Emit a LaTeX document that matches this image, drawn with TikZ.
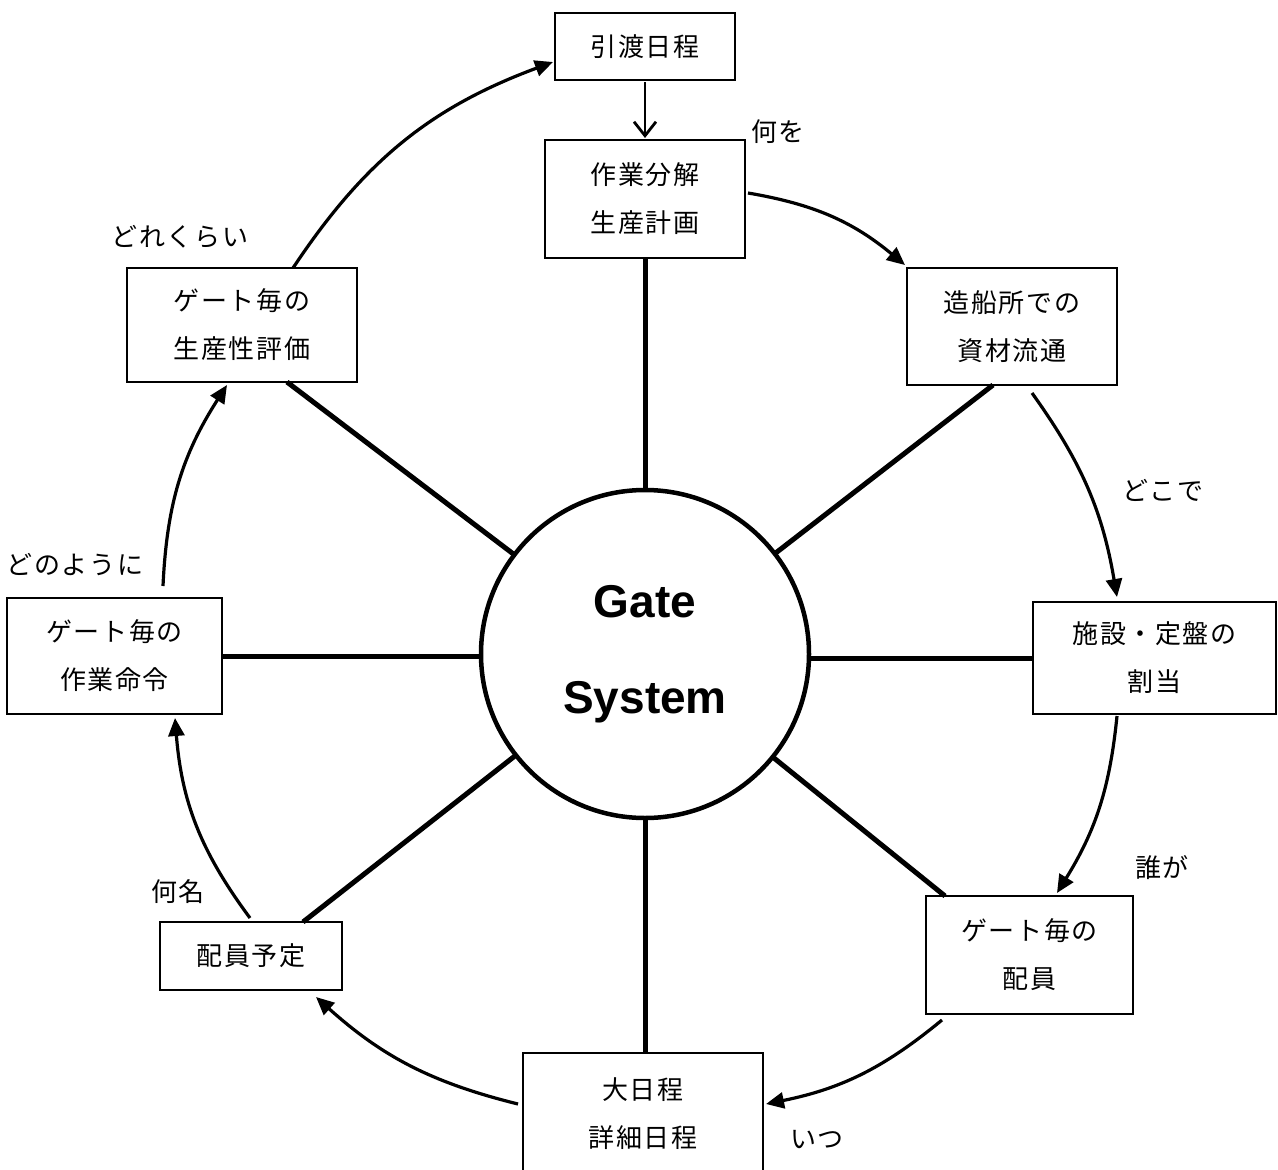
\documentclass[tikz,border=0pt]{standalone}
\usepackage{fontspec}
\setmainfont{Liberation Sans}
\newfontfamily\jp{Noto Sans CJK JP}[LetterSpace=6]
\usetikzlibrary{arrows.meta}
\begin{document}
\begin{tikzpicture}[x=1pt,y=-1pt,
  box/.style={draw, line width=1.5pt, inner sep=0pt, outer sep=0pt, align=center,
    font=\jp\fontsize{26}{48}\selectfont},
  spoke/.style={line width=5pt},
  flow/.style={line width=3.2pt, -{Triangle[length=18pt,width=16pt]}},
  lbl/.style={inner sep=0pt, font=\jp\fontsize{26}{30}\selectfont}]
\useasboundingbox (0,0) rectangle (1278,1170);

\node[draw, circle, line width=4.5pt, minimum size=328pt, inner sep=0pt, outer sep=0pt,
  align=center, font=\bfseries\fontsize{46}{96}\selectfont] (gs) at (645,654) {Gate\\System};

\node[box, minimum width=180pt, minimum height=67pt] (hand) at (645,46.5) {引渡日程};
\node[box, minimum width=200pt, minimum height=118pt] (plan) at (645,199) {作業分解\\生産計画};
\node[box, minimum width=210pt, minimum height=117pt] (mat) at (1012,326.5) {造船所での\\資材流通};
\node[box, minimum width=243pt, minimum height=112pt] (fac) at (1154.5,658) {施設・定盤の\\割当};
\node[box, minimum width=207pt, minimum height=118pt] (crew) at (1029.5,955) {ゲート毎の\\配員};
\node[box, minimum width=240pt, minimum height=122pt] (sched) at (643,1114) {大日程\\詳細日程};
\node[box, minimum width=182pt, minimum height=68pt] (staff) at (251,956) {配員予定};
\node[box, minimum width=215pt, minimum height=116pt] (order) at (114.5,656) {ゲート毎の\\作業命令};
\node[box, minimum width=230pt, minimum height=114pt] (eval) at (242,325) {ゲート毎の\\生産性評価};

% spokes
\draw[spoke] (gs) -- (gs |- plan.south);
\draw[spoke] (gs) -- ([xshift=-19pt]mat.south);
\draw[spoke] (fac.west) -- (gs.east |- fac.west);
\draw[spoke] (gs) -- ([xshift=-84.5pt]crew.north);
\draw[spoke] (gs) -- (gs |- sched.north);
\draw[spoke] (gs) -- ([xshift=52pt]staff.north);
\draw[spoke] (order.east) -- (gs.west |- order.east);
\draw[spoke] (gs) -- ([xshift=45pt]eval.south);

% flow arrows
\draw[line width=2.8pt, -{Straight Barb[length=14pt,width=22pt]}] ([yshift=-2pt]hand.south) -- ([yshift=2pt]plan.north);
\draw[flow] ([xshift=3pt,yshift=6pt]plan.east) to[bend left=15] ([xshift=-2pt,yshift=3pt]mat.north west);
\draw[flow] ([xshift=20pt,yshift=-8pt]mat.south) to[bend left=13] ([xshift=-37.5pt,yshift=5pt]fac.north);
\draw[flow] ([xshift=-37.5pt,yshift=-2pt]fac.south) to[bend left=13] ([xshift=27.5pt,yshift=3pt]crew.north);
\draw[flow] ([xshift=-87.5pt,yshift=-6pt]crew.south) to[bend left=14] ([xshift=3pt,yshift=10pt]sched.east);
\draw[flow] ([xshift=-5pt,yshift=10pt]sched.west) to[bend left=14] ([xshift=65pt,yshift=-7pt]staff.south);
\draw[flow] ([xshift=-1pt,yshift=4pt]staff.north) to[bend left=16] ([xshift=60.5pt,yshift=-4pt]order.south);
\draw[flow] ([xshift=48.5pt,yshift=12pt]order.north) to[bend left=15] ([xshift=-15pt,yshift=-3pt]eval.south);
\draw[flow] ([xshift=51pt]eval.north) to[bend left=18] ([xshift=-2pt,yshift=-15.5pt]hand.west);

% labels
\node[lbl] (l1) at (778,132) {何を};
\node[lbl] (l2) at (1163,490) {どこで};
\node[lbl] (l3) at (1162,868) {誰が};
\node[lbl] (l4) at (817,1140) {いつ};
\node[lbl] (l5) at (178,892) {何名};
\node[lbl] (l6) at (75,565) {どのように};
\node[lbl] (l7) at (180,237) {どれくらい};
\end{tikzpicture}
\end{document}
